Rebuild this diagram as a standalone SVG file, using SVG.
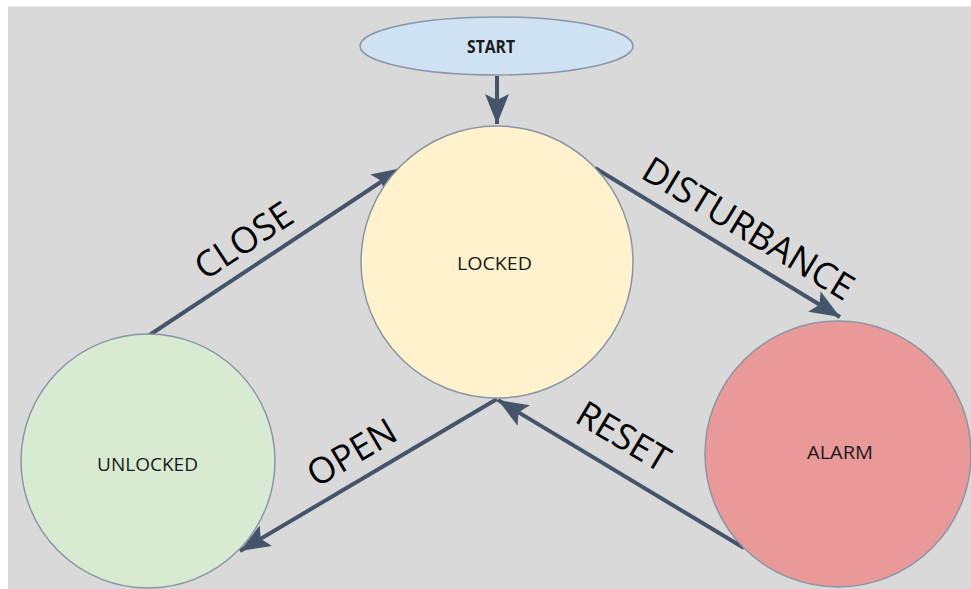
<svg xmlns="http://www.w3.org/2000/svg" width="971" height="589" viewBox="0 0 971 589">
<defs>
<style>
.edge{stroke:#44546a;stroke-width:4;fill:none}
.node{stroke:#8796a6;stroke-width:1.5}
.nl{font-family:"Open Sans","Liberation Sans",sans-serif;font-size:18px;fill:#1a1a1a;text-anchor:middle}
.el{font-family:"Open Sans","Liberation Sans",sans-serif;font-size:36px;fill:#000;text-anchor:middle}
</style>
<marker id="ah" markerUnits="userSpaceOnUse" markerWidth="32" markerHeight="24" refX="30" refY="12" orient="auto">
<path d="M0,0 L30,12 L0,24 L6,12 Z" fill="#44546a"/>
</marker>
</defs>
<rect x="0" y="0" width="971" height="589" fill="#ffffff"/>
<rect x="8" y="6" width="963" height="583" fill="#d9d9d9"/>
<line x1="8" y1="6.5" x2="971" y2="6.5" stroke="#eaeaea" stroke-width="1"/>
<g id="connectors">
<line class="edge" x1="497" y1="76" x2="497" y2="124" marker-end="url(#ah)"/>
<line class="edge" x1="148" y1="336" x2="402" y2="168" marker-end="url(#ah)"/>
<line class="edge" x1="595" y1="168" x2="840" y2="317" marker-end="url(#ah)"/>
<line class="edge" x1="497" y1="399" x2="240" y2="551" marker-end="url(#ah)"/>
<line class="edge" x1="744" y1="548" x2="498" y2="400" marker-end="url(#ah)"/>
<text class="el" transform="translate(244,241) rotate(-33.4)" y="12">CLOSE</text>
<text class="el" transform="translate(748,229) rotate(31.3)" y="12" font-size="37.5">DISTURBANCE</text>
<text class="el" transform="translate(352,453) rotate(-30.8)" y="12">OPEN</text>
<text class="el" transform="translate(623,437) rotate(30.8)" y="12">RESET</text>
</g>
<g id="start">
<ellipse class="node" cx="496.5" cy="46" rx="136.5" ry="29" fill="#cfe2f3"/>
<text class="nl" x="491" y="53" font-weight="bold" font-size="16.5" textLength="48" lengthAdjust="spacingAndGlyphs">START</text>
</g>
<g id="locked">
<circle class="node" cx="497" cy="262" r="136" fill="#fff2cc"/>
<text class="nl" x="494.5" y="270" textLength="75" lengthAdjust="spacingAndGlyphs">LOCKED</text>
</g>
<g id="unlocked">
<circle class="node" cx="148" cy="461" r="127" fill="#d9ead3"/>
<text class="nl" x="147.5" y="471" textLength="101" lengthAdjust="spacingAndGlyphs">UNLOCKED</text>
</g>
<g id="alarm">
<circle class="node" cx="838" cy="454" r="133" fill="#ea9999"/>
<text class="nl" x="840" y="459" textLength="66" lengthAdjust="spacingAndGlyphs">ALARM</text>
</g>
</svg>
